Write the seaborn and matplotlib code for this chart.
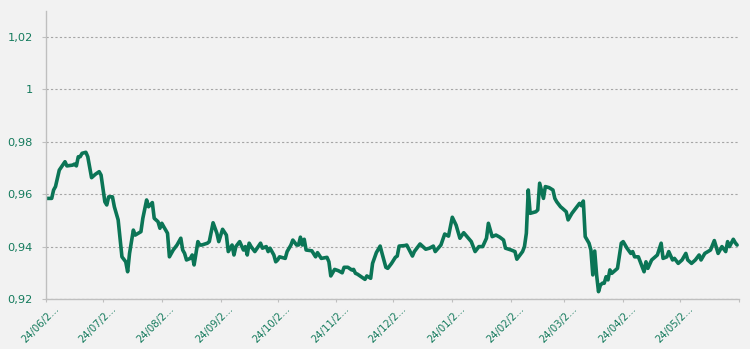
import matplotlib
matplotlib.use("Agg")
import matplotlib.pyplot as plt
from matplotlib.ticker import FuncFormatter
from matplotlib.transforms import ScaledTranslation
import pandas as pd
import seaborn as sns

# Series: day offset from START and the observed value on that day
START = "2018-06-24"
END = "2019-06-24"

DAYS = [
    0, 3, 4, 5, 7, 10, 11, 14, 15, 16,
    17, 18, 19, 21, 22, 24, 26, 28, 29, 31,
    32, 33, 35, 36, 38, 40, 42, 43, 44, 46,
    47, 50, 51, 53, 54, 56, 57, 59, 60, 61,
    62, 64, 65, 67, 69, 71, 72, 73, 74, 76,
    77, 78, 80, 81, 82, 85, 86, 88, 90, 91,
    93, 95, 96, 98, 99, 100, 102, 104, 105, 106,
    107, 108, 110, 113, 114, 116, 117, 118, 120, 121,
    122, 123, 126, 127, 129, 130, 132, 133, 134, 135,
    136, 137, 140, 142, 143, 145, 148, 149, 150, 152,
    154, 156, 157, 159, 161, 162, 163, 164, 166, 168,
    169, 171, 172, 174, 176, 177, 179, 180, 182, 184,
    185, 186, 189, 190, 193, 194, 197, 200, 202, 204,
    205, 208, 210, 212, 214, 216, 218, 220, 222, 224,
    226, 228, 230, 232, 233, 235, 237, 239, 241, 242,
    245, 247, 248, 251, 252, 253, 254, 255, 258, 259,
    260, 262, 263, 265, 267, 268, 269, 271, 272, 274,
    275, 277, 279, 281, 282, 283, 284, 286, 287, 288,
    289, 290, 291, 292, 293, 294, 295, 296, 297, 298,
    300, 301, 303, 304, 306, 308, 309, 310, 312, 314,
    315, 316, 317, 319, 322, 324, 325, 327, 328, 330,
    331, 333, 335, 337, 338, 340, 342, 344, 345, 347,
    350, 352, 354, 356, 358, 359, 360, 362, 363, 364,
]

VALUES = [
    0.9584, 0.9584, 0.9616, 0.9629, 0.9692, 0.9724, 0.9708, 0.9711, 0.9715, 0.9708,
    0.9743, 0.9743, 0.9756, 0.9760, 0.9743, 0.9663, 0.9676, 0.9686, 0.9673, 0.9571,
    0.9559, 0.9590, 0.9590, 0.9552, 0.9502, 0.9361, 0.9342, 0.9304, 0.9374, 0.9463,
    0.9444, 0.9457, 0.9508, 0.9578, 0.9552, 0.9568, 0.9508, 0.9495, 0.9470, 0.9489,
    0.9476, 0.9451, 0.9361, 0.9387, 0.9406, 0.9432, 0.9387, 0.9374, 0.9349, 0.9355,
    0.9368, 0.9330, 0.9419, 0.9406, 0.9406, 0.9413, 0.9419, 0.9491, 0.9451, 0.9419,
    0.9466, 0.9444, 0.9381, 0.9406, 0.9368, 0.9400, 0.9419, 0.9387, 0.9400, 0.9368,
    0.9413, 0.9400, 0.9381, 0.9413, 0.9394, 0.9400, 0.9381, 0.9394, 0.9368, 0.9342,
    0.9349, 0.9361, 0.9355, 0.9381, 0.9406, 0.9425, 0.9406, 0.9406, 0.9436, 0.9406,
    0.9428, 0.9387, 0.9384, 0.9361, 0.9377, 0.9355, 0.9359, 0.9342, 0.9288, 0.9313,
    0.9308, 0.9300, 0.9321, 0.9321, 0.9311, 0.9313, 0.9298, 0.9295, 0.9285, 0.9275,
    0.9288, 0.9279, 0.9336, 0.9377, 0.9402, 0.9374, 0.9321, 0.9317, 0.9336, 0.9359,
    0.9364, 0.9402, 0.9404, 0.9406, 0.9364, 0.9381, 0.9410, 0.9390, 0.9394, 0.9402,
    0.9381, 0.9406, 0.9448, 0.9440, 0.9512, 0.9482, 0.9432, 0.9453, 0.9436, 0.9419,
    0.9381, 0.9400, 0.9400, 0.9432, 0.9489, 0.9438, 0.9444, 0.9436, 0.9425, 0.9394,
    0.9387, 0.9381, 0.9352, 0.9381, 0.9400, 0.9451, 0.9616, 0.9527, 0.9533, 0.9540,
    0.9642, 0.9584, 0.9629, 0.9625, 0.9616, 0.9584, 0.9571, 0.9552, 0.9546, 0.9533,
    0.9502, 0.9527, 0.9546, 0.9565, 0.9556, 0.9574, 0.9438, 0.9413, 0.9387, 0.9292,
    0.9383, 0.9292, 0.9228, 0.9253, 0.9260, 0.9260, 0.9285, 0.9273, 0.9311, 0.9298,
    0.9311, 0.9317, 0.9413, 0.9419, 0.9394, 0.9374, 0.9381, 0.9361, 0.9361, 0.9323,
    0.9304, 0.9342, 0.9317, 0.9349, 0.9368, 0.9413, 0.9355, 0.9361, 0.9381, 0.9349,
    0.9355, 0.9336, 0.9349, 0.9374, 0.9349, 0.9336, 0.9349, 0.9368, 0.9349, 0.9374,
    0.9387, 0.9423, 0.9374, 0.9400, 0.9381, 0.9419, 0.9400, 0.9428, 0.9415, 0.9406,
]

TICK_DATES = [
    "2018-06-24", "2018-07-24", "2018-08-24", "2018-09-24", "2018-10-24", "2018-11-24",
    "2018-12-24", "2019-01-24", "2019-02-24", "2019-03-24", "2019-04-24", "2019-05-24",
]
TICK_LABELS = [
    "24/06/2...", "24/07/2...", "24/08/2...", "24/09/2...", "24/10/2...", "24/11/2...",
    "24/12/2...", "24/01/2...", "24/02/2...", "24/03/2...", "24/04/2...", "24/05/2...",
]
Y_TICKS = [0.92, 0.94, 0.96, 0.98, 1.00, 1.02]

LINE_GREEN = "#0b7556"
TEXT_GREEN = "#137a5c"
AXIS_GRAY = "#bfbfbf"
GRID_GRAY = "#a6a6a6"
BG = "#f2f2f2"

sns.set_theme(style="white")
plt.rcParams["font.family"] = ["DejaVu Sans"]

df = pd.DataFrame({
    "date": pd.Timestamp(START) + pd.to_timedelta(DAYS, unit="D"),
    "value": VALUES,
})

W, H = 750, 349
fig = plt.figure(figsize=(W / 100, H / 100), dpi=100, facecolor=BG)
ax = fig.add_axes([46 / W, 1 - 299 / H, (739 - 46) / W, (299 - 10.8) / H])
ax.set_facecolor(BG)

sns.lineplot(data=df, x="date", y="value", ax=ax, color=LINE_GREEN, linewidth=2.6)
for ln in ax.lines:
    ln.set_solid_joinstyle("round")
    ln.set_solid_capstyle("round")

ax.set_xlim(pd.Timestamp(START), pd.Timestamp(END))
ax.set_ylim(0.92, 1.03)
ax.set_xlabel("")
ax.set_ylabel("")


def comma_fmt(v, _pos):
    s = f"{v:.2f}".rstrip("0").rstrip(".")
    return s.replace(".", ",")


ax.set_yticks(Y_TICKS)
ax.yaxis.set_major_formatter(FuncFormatter(comma_fmt))
ax.set_xticks(pd.to_datetime(TICK_DATES + [END]))
ax.set_xticklabels(TICK_LABELS + [""])

ax.yaxis.grid(True, linestyle=(0, (2, 2)), color=GRID_GRAY, linewidth=0.8)
ax.xaxis.grid(False)
ax.set_axisbelow(True)

for side in ("top", "right"):
    ax.spines[side].set_visible(False)
for side in ("left", "bottom"):
    ax.spines[side].set_color(AXIS_GRAY)
    ax.spines[side].set_linewidth(1.0)

ax.tick_params(axis="y", which="major", direction="out", length=3, width=0.8,
               color=AXIS_GRAY, labelcolor=TEXT_GREEN, labelsize=8.2, pad=6.5, left=True)
ax.tick_params(axis="x", which="major", direction="out", length=2.2, width=0.8,
               color=AXIS_GRAY, labelcolor=TEXT_GREEN, labelsize=7.2, pad=3.9, bottom=True)

shift = ScaledTranslation(11 / 100, 0, fig.dpi_scale_trans)
for lab in ax.get_xticklabels():
    lab.set_rotation(45)
    lab.set_rotation_mode("anchor")
    lab.set_ha("right")
    lab.set_va("center")
    lab.set_transform(lab.get_transform() + shift)

fig.savefig("out.png", dpi=100, facecolor=BG)
